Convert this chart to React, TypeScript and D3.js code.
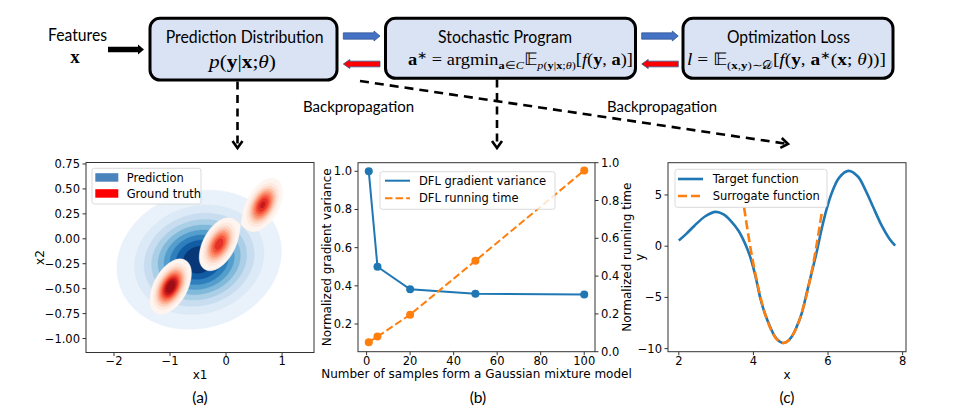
import React from "react";
import * as d3 from "d3";

// ---------------- data ----------------
// (a) prediction density (Gaussian) and ground-truth mixture (3 Gaussians)
const predMean = [-0.48, -0.21];
const predSigma = [0.6, 0.285];
const predRho = 0.12;
const predLevels = [0.05, 0.156, 0.261, 0.367, 0.472, 0.578, 0.683, 0.789, 0.894];
const truthMeanX = [-0.99, -0.125, 0.655];
const truthMeanY = [-0.48, -0.055, 0.34];
const truthWeight = [1.0, 0.78, 0.82];
const truthSigma = [0.16, 0.121];
const truthRho = 0.46;
const truthLevels = [0.07, 0.16, 0.25, 0.34, 0.43, 0.52, 0.61, 0.7, 0.79, 0.88];
const aXTicks = [-2, -1, 0, 1];
const aYTicks = [0.75, 0.5, 0.25, 0, -0.25, -0.5, -0.75, -1.0];
const aLegend = ["Prediction", "Ground truth"];

// (b)
const samples = [1, 5, 20, 50, 100];
const gradVariance = [1.0, 0.5, 0.382, 0.358, 0.354];
const runningTime = [0.05, 0.08, 0.196, 0.481, 0.959];
const bXTicks = [0, 20, 40, 60, 80, 100];
const bYTicks = [0.2, 0.4, 0.6, 0.8, 1.0];
const bY2Ticks = [0.0, 0.2, 0.4, 0.6, 0.8, 1.0];
const bLegend = ["DFL gradient variance", "DFL running time"];

// (c)
const targetX = [2.0, 2.2, 2.42, 2.7, 2.99, 3.2, 3.41, 3.6, 3.77, 3.9, 4.04, 4.2, 4.31, 4.45, 4.57, 4.7, 4.8, 4.9, 5.02, 5.15, 5.29, 5.42, 5.56, 5.7, 5.83, 5.96, 6.1, 6.3, 6.55, 6.8, 7.0, 7.2, 7.44, 7.65, 7.8];
const targetY = [0.55, 1.2, 2.0, 2.9, 3.35, 3.1, 2.4, 1.5, 0.3, -0.9, -2.7, -5.3, -6.6, -7.9, -8.8, -9.3, -9.45, -9.33, -8.87, -7.95, -6.6, -4.7, -2.6, -0.5, 1.7, 3.6, 5.2, 6.7, 7.35, 6.8, 5.5, 3.9, 2.0, 0.7, 0.05];
const surrogateX = [3.75, 3.9, 4.05, 4.2, 4.35, 4.5, 4.65, 4.8, 4.95, 5.1, 5.25, 5.4, 5.55, 5.7, 5.84];
const surrogateY = [3.78, 0.27, -2.7, -5.13, -7.02, -8.37, -9.18, -9.45, -9.18, -8.37, -7.02, -5.13, -2.7, 0.27, 3.45];
const cXTicks = [2, 4, 6, 8];
const cYTicks = [5, 0, -5, -10];
const cLegend = ["Target function", "Surrogate function"];

// ---------------- style ----------------
const BLUE = "#1f77b4";
const ORANGE = "#ff7f0e";
const PLOT_FONT = "DejaVu Sans";
const UI_FONT = "Lato";
const MATH_FONT = "Liberation Serif";
const TICK_FS = 11.5;
const LABEL_FS = 12;

const gauss = (x: number, y: number, mx: number, my: number, sx: number, sy: number, r: number) => {
  const dx = (x - mx) / sx;
  const dy = (y - my) / sy;
  return Math.exp((-1 / (2 * (1 - r * r))) * (dx * dx - 2 * r * dx * dy + dy * dy));
};

type Seg = { t: string; b?: boolean; i?: boolean; s?: number; dy?: number };
function MathText({ x, y, segs, size, len, anchor }: { x: number; y: number; segs: Seg[]; size: number; len?: number; anchor?: string }) {
  let cur = 0;
  return (
    <text x={x} y={y} fontFamily={MATH_FONT} fontSize={size} textAnchor={anchor || "start"} style={{ whiteSpace: "pre" }}
      textLength={len} lengthAdjust={len ? "spacingAndGlyphs" : undefined}>
      {segs.map((sg, k) => {
        const sh = sg.dy || 0;
        const d = sh - cur;
        cur = sh;
        return (
          <tspan key={k} dy={d} fontWeight={sg.b ? "bold" : "normal"} fontStyle={sg.i ? "italic" : "normal"} fontSize={sg.s || size}>
            {sg.t}
          </tspan>
        );
      })}
    </text>
  );
}

function blockArrow(xTail: number, xTip: number, yc: number, shaftH: number, headH: number, headL: number) {
  const dir = Math.sign(xTip - xTail);
  const xh = xTip - dir * headL;
  return `M${xTail},${yc - shaftH / 2}L${xh},${yc - shaftH / 2}L${xh},${yc - headH / 2}L${xTip},${yc}L${xh},${yc + headH / 2}L${xh},${yc + shaftH / 2}L${xTail},${yc + shaftH / 2}Z`;
}

function chevron(x: number, y: number, angle: number) {
  const L = 7, Wd = 5;
  const ux = Math.cos(angle), uy = Math.sin(angle);
  const px = -uy, py = ux;
  const bx = x - ux * L, by = y - uy * L;
  return `M${bx + px * Wd},${by + py * Wd}L${x},${y}L${bx - px * Wd},${by - py * Wd}`;
}

function Frame({ x0, x1, y0, y1 }: { x0: number; x1: number; y0: number; y1: number }) {
  return <rect x={x0} y={y0} width={x1 - x0} height={y1 - y0} fill="none" stroke="#333" strokeWidth={1} />;
}

function XTicks({ scale, ticks, y, fmt }: { scale: any; ticks: number[]; y: number; fmt: (v: number) => string }) {
  return (
    <g>
      {ticks.map((t) => (
        <g key={t}>
          <line x1={scale(t)} x2={scale(t)} y1={y} y2={y + 3.5} stroke="#333" />
          <text x={scale(t)} y={y + 12.8} textAnchor="middle" fontFamily={PLOT_FONT} fontSize={TICK_FS}>{fmt(t)}</text>
        </g>
      ))}
    </g>
  );
}

function YTicks({ scale, ticks, x, fmt, right }: { scale: any; ticks: number[]; x: number; fmt: (v: number) => string; right?: boolean }) {
  const s = right ? 1 : -1;
  return (
    <g>
      {ticks.map((t) => (
        <g key={t}>
          <line x1={x} x2={x + s * 3.5} y1={scale(t)} y2={scale(t)} stroke="#333" />
          <text x={x + s * 6} y={scale(t) + 4} textAnchor={right ? "start" : "end"} fontFamily={PLOT_FONT} fontSize={TICK_FS}>{fmt(t)}</text>
        </g>
      ))}
    </g>
  );
}

function YLabel({ x, y, text }: { x: number; y: number; text: string }) {
  return (
    <text transform={`translate(${x},${y}) rotate(-90)`} textAnchor="middle" dy="0.35em" fontFamily={PLOT_FONT} fontSize={LABEL_FS}>{text}</text>
  );
}

function LegendBox({ x, y, w, h }: { x: number; y: number; w: number; h: number }) {
  return <rect x={x} y={y} width={w} height={h} rx={2.5} fill="white" fillOpacity={0.8} stroke="#d0d0d0" strokeWidth={0.8} />;
}

export default function App() {
  // ---------- panel (a) ----------
  const A = { x0: 86, x1: 314, y0: 162.5, y1: 352.5 };
  const xA = d3.scaleLinear().domain([-2.5, 1.57]).range([A.x0, A.x1]);
  const yA = d3.scaleLinear().domain([-1.14, 0.765]).range([A.y1, A.y0]);
  const n = Math.round(A.x1 - A.x0), m = Math.round(A.y1 - A.y0);
  const predVals: number[] = new Array(n * m);
  const truthVals: number[] = new Array(n * m);
  for (let j = 0; j < m; j++) {
    for (let i = 0; i < n; i++) {
      const dx = xA.invert(A.x0 + i + 0.5);
      const dy = yA.invert(A.y0 + j + 0.5);
      predVals[j * n + i] = gauss(dx, dy, predMean[0], predMean[1], predSigma[0], predSigma[1], predRho);
      let s = 0;
      for (let k = 0; k < truthMeanX.length; k++) {
        s += truthWeight[k] * gauss(dx, dy, truthMeanX[k], truthMeanY[k], truthSigma[0], truthSigma[1], truthRho);
      }
      truthVals[j * n + i] = s;
    }
  }
  const predContours = d3.contours().size([n, m]).thresholds(predLevels)(predVals);
  const truthContours = d3.contours().size([n, m]).thresholds(truthLevels)(truthVals);
  const gp = d3.geoPath();
  const blueColor = (i: number) => d3.interpolateBlues(0.07 + 0.9 * Math.pow(i / (predLevels.length - 1), 1.25));
  const redColor = (i: number) => d3.interpolateReds(0.88 * Math.pow(i / (truthLevels.length - 1), 1.15));
  const fmt2 = d3.format(".2f");

  // ---------- panel (b) ----------
  const B = { x0: 358, x1: 595, y0: 162.7, y1: 351.7 };
  const xB = d3.scaleLinear().domain([-3.95, 104.95]).range([B.x0, B.x1]);
  const yB = d3.scaleLinear().domain([0.055, 1.045]).range([B.y1, B.y0]);
  const yB2 = d3.scaleLinear().domain([0, 1]).range([B.y1, B.y0]);
  const lineB = d3.line<number>().x((_, i) => xB(samples[i])).y((v) => yB(v));
  const lineB2 = d3.line<number>().x((_, i) => xB(samples[i])).y((v) => yB2(v));
  const fmt1 = d3.format(".1f");

  // ---------- panel (c) ----------
  const C = { x0: 668, x1: 906, y0: 162.7, y1: 351.7 };
  const xC = d3.scaleLinear().domain([1.71, 8.09]).range([C.x0, C.x1]);
  const yC = d3.scaleLinear().domain([-10.3, 8.15]).range([C.y1, C.y0]);
  const lineT = d3.line<number>().x((_, i) => xC(targetX[i])).y((v) => yC(v)).curve(d3.curveCatmullRom.alpha(0.5));
  const lineS = d3.line<number>().x((_, i) => xC(surrogateX[i])).y((v) => yC(v)).curve(d3.curveCatmullRom.alpha(0.5));
  const fmt0 = d3.format("d");

  const boxFill = "#dae3f3";
  const diag = { x1: 360, y1: 81, x2: 788, y2: 144 };
  const diagAng = Math.atan2(diag.y2 - diag.y1, diag.x2 - diag.x1);

  return (
    <svg width={955} height={420} viewBox="0 0 955 420" style={{ position: "fixed", left: 0, top: 0, background: "white" }}>
      <defs>
        <clipPath id="clipA"><rect x={A.x0} y={A.y0} width={A.x1 - A.x0} height={A.y1 - A.y0} /></clipPath>
        <clipPath id="clipC"><rect x={C.x0} y={C.y0} width={C.x1 - C.x0} height={C.y1 - C.y0} /></clipPath>
      </defs>
      <rect width={955} height={420} fill="white" />
      {/* ---------------- top diagram ---------------- */}
      <text x={48} y={40.7} fontFamily={UI_FONT} fontSize={17.5} textLength={59} lengthAdjust="spacingAndGlyphs">Features</text>
      <text x={75} y={63.3} textAnchor="middle" fontFamily={MATH_FONT} fontWeight="bold" fontSize={19}>x</text>
      <path d={blockArrow(108, 144, 49.5, 5.7, 10, 6)} fill="black" />

      <rect x={150} y={18.3} width={187} height={61.7} rx={10} fill={boxFill} stroke="black" strokeWidth={3} />
      <rect x={385.5} y={18.3} width={250} height={60} rx={10} fill={boxFill} stroke="black" strokeWidth={3} />
      <rect x={683} y={18.3} width={210} height={60} rx={10} fill={boxFill} stroke="black" strokeWidth={3} />

      <text x={165.7} y={42.7} fontFamily={UI_FONT} fontSize={17.5} textLength={158} lengthAdjust="spacingAndGlyphs">Prediction Distribution</text>
      <text x={438} y={42.5} fontFamily={UI_FONT} fontSize={17.5} textLength={134} lengthAdjust="spacingAndGlyphs">Stochastic Program</text>
      <text x={727} y={42.5} fontFamily={UI_FONT} fontSize={17.5} textLength={123} lengthAdjust="spacingAndGlyphs">Optimization Loss</text>

      <MathText x={209} y={68} size={18} len={67}
        segs={[{ t: "p", i: true }, { t: "(" }, { t: "y", b: true }, { t: "|" }, { t: "x", b: true }, { t: ";" }, { t: "θ", i: true }, { t: ")" }]} />
      <MathText x={408} y={65} size={16.5} len={225}
        segs={[
          { t: "a", b: true }, { t: "∗", s: 11, dy: -6 }, { t: " = argmin" },
          { t: "a", b: true, s: 11, dy: 4 }, { t: "∈", s: 11, dy: 4 }, { t: "C", i: true, s: 11, dy: 4 },
          { t: "𝔼" },
          { t: "p", i: true, s: 11, dy: 4 }, { t: "(", s: 11, dy: 4 }, { t: "y", b: true, s: 11, dy: 4 }, { t: "|", s: 11, dy: 4 },
          { t: "x", b: true, s: 11, dy: 4 }, { t: ";", s: 11, dy: 4 }, { t: "θ", i: true, s: 11, dy: 4 }, { t: ")", s: 11, dy: 4 },
          { t: "[" }, { t: "f", i: true }, { t: "(" }, { t: "y", b: true }, { t: ", " }, { t: "a", b: true }, { t: ")]" },
        ]} />
      <MathText x={687} y={65} size={16.5} len={199}
        segs={[
          { t: "l", i: true }, { t: " = 𝔼" },
          { t: "(", s: 11, dy: 4 }, { t: "x", b: true, s: 11, dy: 4 }, { t: ",", s: 11, dy: 4 }, { t: "y", b: true, s: 11, dy: 4 },
          { t: ")∼", s: 11, dy: 4 }, { t: "𝒟", s: 11, dy: 4 },
          { t: "[" }, { t: "f", i: true }, { t: "(" }, { t: "y", b: true }, { t: ", " }, { t: "a", b: true },
          { t: "∗", s: 11, dy: -6 }, { t: "(" }, { t: "x", b: true }, { t: "; " }, { t: "θ", i: true }, { t: "))]" },
        ]} />

      {/* block arrows between boxes */}
      <path d={blockArrow(343.3, 380, 36, 6.3, 10, 6)} fill="#4472c4" stroke="#2f528f" strokeWidth={0.75} />
      <path d={blockArrow(380, 343.3, 64, 5.7, 9, 6.5)} fill="#ff0000" stroke="#2f528f" strokeWidth={0.75} />
      <path d={blockArrow(641.7, 678.3, 36, 6.3, 10, 6)} fill="#4472c4" stroke="#2f528f" strokeWidth={0.75} />
      <path d={blockArrow(678.3, 641.7, 64, 5.7, 9, 6.5)} fill="#ff0000" stroke="#2f528f" strokeWidth={0.75} />

      {/* dashed arrows */}
      <g stroke="black" strokeWidth={2.6} fill="none">
        <line x1={237.5} y1={81.5} x2={237.5} y2={146} strokeDasharray="8,5.5" />
        <path d={chevron(237.5, 148, Math.PI / 2)} />
        <line x1={497} y1={79.5} x2={497} y2={146} strokeDasharray="8,5.5" />
        <path d={chevron(497, 148, Math.PI / 2)} />
        <line x1={diag.x1} y1={diag.y1} x2={diag.x2 - 2} y2={diag.y2 - 0.3} strokeDasharray="9,6" />
        <path d={chevron(diag.x2, diag.y2, diagAng)} />
      </g>
      <text x={303} y={112} fontFamily={UI_FONT} fontSize={15.5} textLength={111} lengthAdjust="spacingAndGlyphs">Backpropagation</text>
      <text x={607} y={112} fontFamily={UI_FONT} fontSize={15.5} textLength={110} lengthAdjust="spacingAndGlyphs">Backpropagation</text>

      {/* ---------------- panel (a) ---------------- */}
      <g clipPath="url(#clipA)">
        <g transform={`translate(${A.x0},${A.y0})`}>
          {predContours.map((c, i) => (
            <path key={"p" + i} d={gp(c as any) || ""} fill={blueColor(i)} stroke={blueColor(i)} strokeWidth={0.3} />
          ))}
          {truthContours.map((c, i) => (
            <path key={"t" + i} d={gp(c as any) || ""} fill={redColor(i)} stroke={redColor(i)} strokeWidth={0.3} />
          ))}
        </g>
      </g>
      <Frame {...A} />
      <XTicks scale={xA} ticks={aXTicks} y={A.y1} fmt={fmt0} />
      <YTicks scale={yA} ticks={aYTicks} x={A.x0} fmt={fmt2} />
      <text x={(A.x0 + A.x1) / 2} y={379} textAnchor="middle" fontFamily={PLOT_FONT} fontSize={LABEL_FS}>x1</text>
      <YLabel x={40} y={(A.y0 + A.y1) / 2} text="x2" />
      <LegendBox x={92} y={168.3} w={109} h={35.7} />
      <rect x={95.3} y={173.2} width={23} height={8.5} fill="#4a84bd" />
      <rect x={95.3} y={189.2} width={23} height={8.5} fill="#ff0000" />
      <text x={126.7} y={181.6} fontFamily={PLOT_FONT} fontSize={TICK_FS}>{aLegend[0]}</text>
      <text x={126.7} y={197.6} fontFamily={PLOT_FONT} fontSize={TICK_FS}>{aLegend[1]}</text>
      <text x={200} y={403} textAnchor="middle" fontFamily={UI_FONT} fontSize={15.5}>(a)</text>

      {/* ---------------- panel (b) ---------------- */}
      <path d={lineB(gradVariance) || ""} fill="none" stroke={BLUE} strokeWidth={2} />
      {gradVariance.map((v, i) => <circle key={"gv" + i} cx={xB(samples[i])} cy={yB(v)} r={4} fill={BLUE} />)}
      <path d={lineB2(runningTime) || ""} fill="none" stroke={ORANGE} strokeWidth={2} strokeDasharray="7.4,3.2" />
      {runningTime.map((v, i) => <circle key={"rt" + i} cx={xB(samples[i])} cy={yB2(v)} r={4} fill={ORANGE} />)}
      <Frame {...B} />
      <XTicks scale={xB} ticks={bXTicks} y={B.y1} fmt={fmt0} />
      <YTicks scale={yB} ticks={bYTicks} x={B.x0} fmt={fmt1} />
      <YTicks scale={yB2} ticks={bY2Ticks} x={B.x1} fmt={fmt1} right />
      <text x={(B.x0 + B.x1) / 2} y={377.5} textAnchor="middle" fontFamily={PLOT_FONT} fontSize={LABEL_FS}>Number of samples form a Gaussian mixture model</text>
      <YLabel x={327} y={(B.y0 + B.y1) / 2} text="Normalized gradient variance" />
      <YLabel x={627} y={(B.y0 + B.y1) / 2} text="Normalized running time" />
      <LegendBox x={380} y={171.7} w={175} h={37.6} />
      <line x1={385} x2={410} y1={180.7} y2={180.7} stroke={BLUE} strokeWidth={2} />
      <line x1={385} x2={410} y1={198.3} y2={198.3} stroke={ORANGE} strokeWidth={2} strokeDasharray="7.4,3.2" />
      <text x={419} y={184.8} fontFamily={PLOT_FONT} fontSize={TICK_FS}>{bLegend[0]}</text>
      <text x={419} y={202.4} fontFamily={PLOT_FONT} fontSize={TICK_FS}>{bLegend[1]}</text>
      <text x={478} y={403} textAnchor="middle" fontFamily={UI_FONT} fontSize={15.5}>(b)</text>

      {/* ---------------- panel (c) ---------------- */}
      <g clipPath="url(#clipC)">
        <path d={lineT(targetY) || ""} fill="none" stroke={BLUE} strokeWidth={2.6} />
        <path d={lineS(surrogateY) || ""} fill="none" stroke={ORANGE} strokeWidth={2.6} strokeDasharray="9,4" />
      </g>
      <Frame {...C} />
      <XTicks scale={xC} ticks={cXTicks} y={C.y1} fmt={fmt0} />
      <YTicks scale={yC} ticks={cYTicks} x={C.x0} fmt={fmt0} />
      <text x={(C.x0 + C.x1) / 2} y={379} textAnchor="middle" fontFamily={PLOT_FONT} fontSize={LABEL_FS}>x</text>
      <YLabel x={640} y={(C.y0 + C.y1) / 2} text="y" />
      <LegendBox x={675} y={169.3} w={152} h={38} />
      <line x1={678} x2={703} y1={179} y2={179} stroke={BLUE} strokeWidth={2.6} />
      <line x1={678} x2={703} y1={196} y2={196} stroke={ORANGE} strokeWidth={2.6} strokeDasharray="9,4" />
      <text x={712.7} y={183.1} fontFamily={PLOT_FONT} fontSize={TICK_FS}>{cLegend[0]}</text>
      <text x={712.7} y={200.1} fontFamily={PLOT_FONT} fontSize={TICK_FS}>{cLegend[1]}</text>
      <text x={787} y={403} textAnchor="middle" fontFamily={UI_FONT} fontSize={15.5}>(c)</text>
    </svg>
  );
}
